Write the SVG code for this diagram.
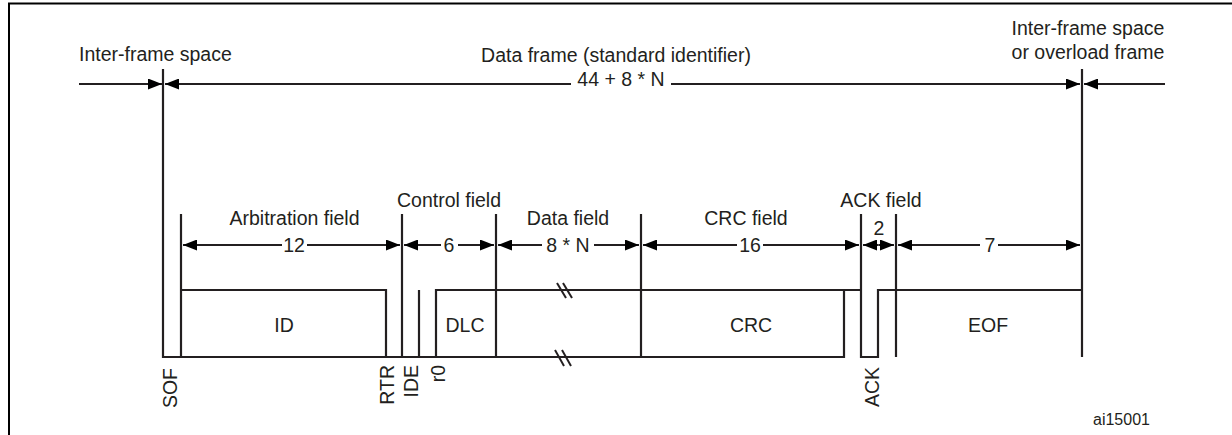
<svg xmlns="http://www.w3.org/2000/svg" width="1232" height="435" viewBox="0 0 1232 435">
<style>
text{font-family:"Liberation Sans",Arial,sans-serif;font-size:19.5px;fill:#231f20}
.c{text-anchor:middle}
.e{text-anchor:end}
.w{fill:none;stroke:#231f20;stroke-width:2.2}
.a{stroke:#231f20;stroke-width:2;marker-end:url(#ah)}
.brk{stroke:#231f20;stroke-width:2}
.small{font-size:16px}
</style>
<defs>
<marker id="ah" markerUnits="userSpaceOnUse" markerWidth="14" markerHeight="11" refX="14" refY="5.5" orient="auto">
<path d="M0,0 L14,5.5 L0,11 z" fill="#000"/>
</marker>
</defs>
<rect width="1232" height="435" fill="#fff"/>
<path d="M9,436 V3.5 H1233" fill="none" stroke="#000" stroke-width="2"/>

<g id="labels-top">
<text x="79" y="61">Inter-frame space</text>
<text class="c" x="616" y="62">Data frame (standard identifier)</text>
<text class="c" x="1088" y="35">Inter-frame space</text>
<text class="c" x="1088" y="59">or overload frame</text>
<text class="c" x="621" y="86">44 + 8 * N</text>
</g>

<g id="field-labels">
<text class="c" x="294.5" y="225">Arbitration field</text>
<text class="c" x="449" y="207">Control field</text>
<text class="c" x="568" y="225">Data field</text>
<text class="c" x="746" y="225">CRC field</text>
<text class="c" x="881" y="207">ACK field</text>
<text class="c" x="294" y="252">12</text>
<text class="c" x="449" y="252">6</text>
<text class="c" x="568" y="252">8 * N</text>
<text class="c" x="750" y="252">16</text>
<text class="c" x="879" y="235">2</text>
<text class="c" x="990" y="252">7</text>
</g>

<g id="waveform">
<path class="w" d="M163,69 V357 H844 V290"/>
<path class="w" d="M181,214 V357 M181,290 H386 V357"/>
<path class="w" d="M402,214 V357"/>
<path class="w" d="M419,290 V357"/>
<path class="w" d="M436,357 V290 H861"/>
<path class="w" d="M496,214 V357"/>
<path class="w" d="M641,214 V357"/>
<path class="w" d="M861,214 V357 H878 V290 H1082"/>
<path class="w" d="M896,214 V357"/>
<path class="w" d="M1082,69 V357"/>
<line class="brk" x1="557" y1="283" x2="566" y2="298"/>
<line class="brk" x1="563" y1="283" x2="572" y2="298"/>
<line class="brk" x1="555" y1="350" x2="564" y2="366"/>
<line class="brk" x1="562" y1="350" x2="571" y2="366"/>
</g>

<g id="node-ID"><text class="c" x="284" y="332">ID</text></g>
<g id="node-DLC"><text class="c" x="465" y="332">DLC</text></g>
<g id="node-CRC"><text class="c" x="751" y="332">CRC</text></g>
<g id="node-EOF"><text class="c" x="988" y="332">EOF</text></g>

<g id="bit-labels">
<text class="e" transform="translate(177,368) rotate(-90)">SOF</text>
<text class="e" transform="translate(394,365) rotate(-90)">RTR</text>
<text class="e" transform="translate(418,365) rotate(-90)">IDE</text>
<text class="e" transform="translate(445,365) rotate(-90)">r0</text>
<text class="e" transform="translate(879,367) rotate(-90)">ACK</text>
</g>

<g id="connectors">
<line class="a" x1="79" y1="84" x2="162" y2="84"/>
<line class="a" x1="571" y1="84" x2="165" y2="84"/>
<line class="a" x1="671" y1="84" x2="1080" y2="84"/>
<line class="a" x1="1165" y1="84" x2="1084" y2="84"/>
<line class="a" x1="282" y1="245" x2="183" y2="245"/>
<line class="a" x1="307" y1="245" x2="400" y2="245"/>
<line class="a" x1="441" y1="245" x2="404" y2="245"/>
<line class="a" x1="458" y1="245" x2="494" y2="245"/>
<line class="a" x1="542" y1="245" x2="498" y2="245"/>
<line class="a" x1="594" y1="245" x2="639" y2="245"/>
<line class="a" x1="737" y1="245" x2="643" y2="245"/>
<line class="a" x1="763" y1="245" x2="859" y2="245"/>
<line class="a" x1="878.5" y1="245" x2="863" y2="245"/>
<line class="a" x1="878.5" y1="245" x2="894" y2="245"/>
<line class="a" x1="980" y1="245" x2="898" y2="245"/>
<line class="a" x1="998" y1="245" x2="1080" y2="245"/>
</g>

<text class="small" x="1093" y="425">ai15001</text>
</svg>
